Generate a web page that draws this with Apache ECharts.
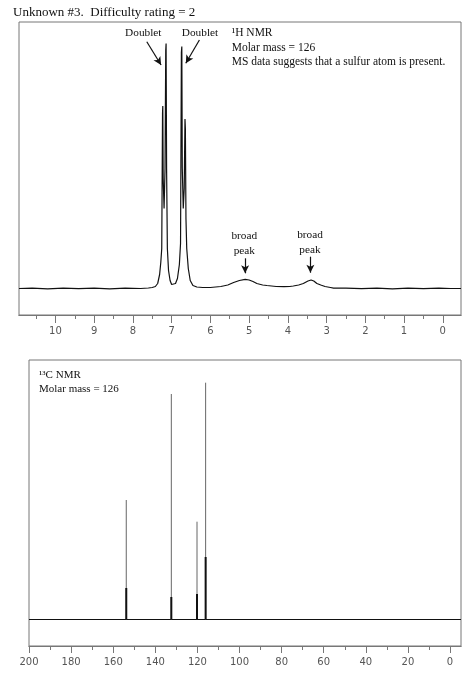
<!DOCTYPE html>
<html>
<head>
<meta charset="utf-8">
<script src="https://cdn.jsdelivr.net/npm/echarts@6/dist/echarts.min.js"></script>
<style>
html,body{margin:0;padding:0;background:#fff;}
#chart{width:474px;height:700px;}
</style>
</head>
<body>
<div id="chart"></div>
<script>
// ---------- 1H NMR trace (ppm, intensity) ----------
var hPpm = [10.94, 10.6, 10.2, 9.8, 9.4, 9.0, 8.6, 8.2, 7.8, 7.6, 7.5, 7.42, 7.36, 7.31, 7.28, 7.255,
  7.235, 7.228, 7.218, 7.195, 7.17, 7.152, 7.143, 7.13, 7.11, 7.08, 7.04, 7.0, 6.95, 6.90, 6.85, 6.80, 6.77,
  6.748, 6.737, 6.725, 6.70, 6.675, 6.655, 6.645, 6.63, 6.61, 6.57, 6.52, 6.45, 6.35, 6.2, 6.0,
  5.73, 5.55, 5.40, 5.25, 5.10, 5.0, 4.90, 4.80, 4.65, 4.54, 4.3, 4.1, 3.95, 3.86, 3.72, 3.60, 3.48,
  3.40, 3.33, 3.25, 3.15, 3.04, 2.9, 2.82, 2.5, 2.1, 1.7, 1.3, 0.9, 0.5, 0.1, -0.2, -0.47];
var hInt = [0, 0.4, -0.3, 0.3, -0.2, 0.4, -0.3, 0.3, 0, 0.5, 1, 2, 5, 14, 26, 40,
  175, 182.5, 110, 80, 120, 238, 245, 120, 40, 18, 8, 4, 3, 5, 10, 24, 45,
  236, 242, 120, 80, 100, 169.5, 160, 70, 40, 20, 8, 3, 1.5, 1, 1,
  2, 3.5, 6, 8, 9.2, 8.5, 7, 5, 3.5, 3, 2, 1.8, 2, 2.5, 3.5, 5, 7.5,
  8.5, 7.5, 5, 3.5, 2, 1, 0.3, 0.4, -0.2, 0.3, -0.3, 0.3, -0.2, 0.3, 0, 0];
var hMajorTicks = [0, 1, 2, 3, 4, 5, 6, 7, 8, 9, 10];
var hMinorTicks = [0.5, 1.5, 2.5, 3.5, 4.5, 5.5, 6.5, 7.5, 8.5, 9.5, 10.5];

// ---------- 13C NMR peaks ----------
var cPpm = [153.8, 132.4, 120.2, 116.1];
var cHeight = [119.5, 225.5, 97.8, 236.8];
var cDarkHeight = [31.5, 22.5, 25.5, 62.5];
var cMajorTicks = [0, 20, 40, 60, 80, 100, 120, 140, 160, 180, 200];
var cMinorTicks = [10, 30, 50, 70, 90, 110, 130, 150, 170, 190];

var H_MIN = -0.47, H_MAX = 10.94;
var C_MIN = -5.2, C_MAX = 200;

var chart = echarts.init(document.getElementById('chart'), null, {renderer: 'canvas'});

var hData = hPpm.map(function (p, i) { return [p, hInt[i]]; });

var axisColor = '#777';
var labelStyle = {color: '#555', fontFamily: 'DejaVu Sans', fontSize: 10, margin: 11};

function xAxisDef(grid, min, max, ticks, len, showLabel) {
  return {
    type: 'value', gridIndex: grid, min: min, max: max, inverse: true, position: 'bottom',
    axisLine: {show: true, onZero: false, lineStyle: {color: axisColor, width: 1}},
    axisTick: {show: true, inside: false, length: len, customValues: ticks, lineStyle: {color: axisColor, width: 1}},
    axisLabel: showLabel ? Object.assign({show: true, customValues: ticks}, labelStyle) : {show: false},
    splitLine: {show: false}
  };
}

var series = [];
// 1H trace
series.push({
  type: 'line', xAxisIndex: 0, yAxisIndex: 0, data: hData, showSymbol: false, symbol: 'none',
  lineStyle: {color: '#111', width: 1.2}, animation: false, silent: true,
  markLine: {
    silent: true, symbol: ['none', 'arrow'], symbolSize: [6, 8], animation: false,
    label: {show: false},
    lineStyle: {color: '#111', width: 1.2, type: 'solid'},
    data: [
      [{coord: [7.641, 246.8]}, {coord: [7.272, 223.5]}],
      [{coord: [6.283, 248.5]}, {coord: [6.634, 225.2]}],
      [{coord: [5.103, 30.2]}, {coord: [5.103, 15.2]}],
      [{coord: [3.418, 31.8]}, {coord: [3.418, 15.8]}]
    ]
  }
});
// 13C baseline
series.push({
  type: 'line', xAxisIndex: 2, yAxisIndex: 1, data: [[C_MAX, 0], [C_MIN, 0]], showSymbol: false, symbol: 'none',
  lineStyle: {color: '#111', width: 1}, animation: false, silent: true
});
// 13C peaks: thin full-height line and thicker lower part
cPpm.forEach(function (p, i) {
  series.push({
    type: 'line', xAxisIndex: 2, yAxisIndex: 1, data: [[p, 0], [p, cHeight[i]]], showSymbol: false, symbol: 'none',
    lineStyle: {color: '#666', width: 1}, animation: false, silent: true
  });
  series.push({
    type: 'line', xAxisIndex: 2, yAxisIndex: 1, data: [[p, 0], [p, cDarkHeight[i]]], showSymbol: false, symbol: 'none',
    lineStyle: {color: '#111', width: 2}, animation: false, silent: true
  });
});

var serif = 'Liberation Serif';
function txt(x, y, s, size, align) {
  return {type: 'text', x: x, y: y, silent: true,
    style: {text: s, fill: '#111', font: size + 'px "' + serif + '"', textAlign: align || 'left', textVerticalAlign: 'middle'}};
}

var option = {
  backgroundColor: '#fff',
  animation: false,
  grid: [
    {left: 19, top: 22, width: 442, height: 293, show: true, borderColor: axisColor, borderWidth: 1, backgroundColor: 'transparent'},
    {left: 29, top: 360, width: 432, height: 286, show: true, borderColor: axisColor, borderWidth: 1, backgroundColor: 'transparent'}
  ],
  xAxis: [
    xAxisDef(0, H_MIN, H_MAX, hMajorTicks, 8, true),
    xAxisDef(0, H_MIN, H_MAX, hMinorTicks, 4, false),
    xAxisDef(1, C_MIN, C_MAX, cMajorTicks, 7, true),
    xAxisDef(1, C_MIN, C_MAX, cMinorTicks, 4, false)
  ],
  yAxis: [
    {type: 'value', gridIndex: 0, min: -26.5, max: 266.5, show: false, splitLine: {show: false}},
    {type: 'value', gridIndex: 1, min: -26.5, max: 259.5, show: false, splitLine: {show: false}}
  ],
  series: series,
  graphic: [
    txt(13, 13, 'Unknown #3.  Difficulty rating = 2', 13),
    txt(143.3, 33.3, 'Doublet', 11.3, 'center'),
    txt(200, 33.3, 'Doublet', 11.3, 'center'),
    txt(231.7, 33.3, '¹H NMR', 11.5),
    txt(231.7, 47.7, 'Molar mass = 126', 11.5),
    txt(231.7, 61.7, 'MS data suggests that a sulfur atom is present.', 11.5),
    txt(244.3, 236, 'broad', 11.3, 'center'),
    txt(244.3, 251.5, 'peak', 11.3, 'center'),
    txt(310, 235, 'broad', 11.3, 'center'),
    txt(310, 250.5, 'peak', 11.3, 'center'),
    txt(39, 375, '¹³C NMR', 11),
    txt(39, 389, 'Molar mass = 126', 11)
  ]
};
chart.setOption(option);
</script>
</body>
</html>
